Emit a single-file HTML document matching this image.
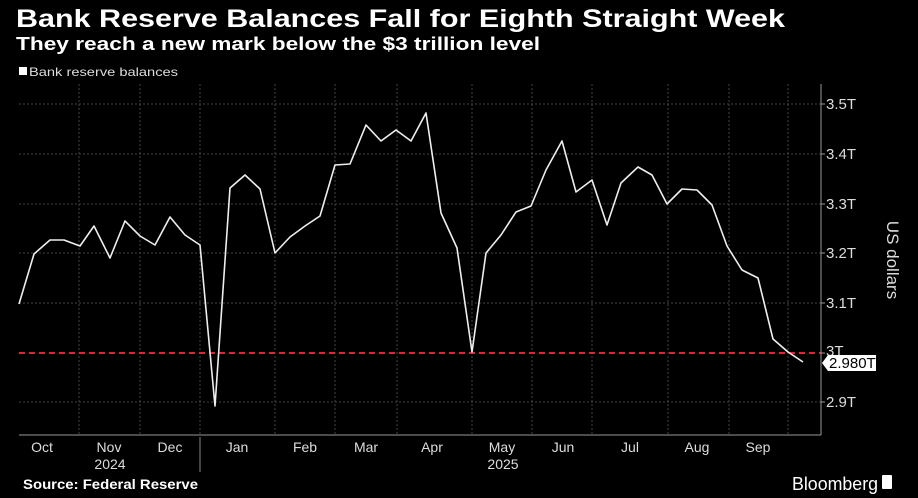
<!DOCTYPE html>
<html><head><meta charset="utf-8"><style>
html,body{margin:0;padding:0;background:#000;width:918px;height:498px;overflow:hidden}
svg{display:block}
text{font-family:"Liberation Sans",sans-serif}
</style></head><body>
<svg width="918" height="498" viewBox="0 0 918 498" xmlns="http://www.w3.org/2000/svg">
<rect width="918" height="498" fill="#000"/>
<text x="16" y="27" fill="#fff" font-size="25" font-weight="bold" textLength="769" lengthAdjust="spacingAndGlyphs">Bank Reserve Balances Fall for Eighth Straight Week</text>
<text x="16" y="50" fill="#fff" font-size="18" font-weight="bold" textLength="524" lengthAdjust="spacingAndGlyphs">They reach a new mark below the $3 trillion level</text>
<rect x="19" y="67" width="8" height="8" fill="#fff"/>
<text x="29" y="76" fill="#ddd" font-size="12" textLength="149" lengthAdjust="spacingAndGlyphs">Bank reserve balances</text>
<g stroke="#444" stroke-width="1" stroke-dasharray="2,2">
<line x1="19" y1="104" x2="821" y2="104"/><line x1="19" y1="154" x2="821" y2="154"/>
<line x1="19" y1="204" x2="821" y2="204"/><line x1="19" y1="253" x2="821" y2="253"/>
<line x1="19" y1="303" x2="821" y2="303"/><line x1="19" y1="402" x2="821" y2="402"/>
<line x1="79" y1="84" x2="79" y2="435"/><line x1="140" y1="84" x2="140" y2="435"/>
<line x1="200" y1="84" x2="200" y2="435"/><line x1="275" y1="84" x2="275" y2="435"/>
<line x1="335" y1="84" x2="335" y2="435"/><line x1="397" y1="84" x2="397" y2="435"/>
<line x1="472" y1="84" x2="472" y2="435"/><line x1="532" y1="84" x2="532" y2="435"/>
<line x1="592" y1="84" x2="592" y2="435"/><line x1="668" y1="84" x2="668" y2="435"/>
<line x1="729" y1="84" x2="729" y2="435"/><line x1="788" y1="84" x2="788" y2="435"/>
</g>
<line x1="19" y1="353" x2="821" y2="353" stroke="#e8203a" stroke-width="2" stroke-dasharray="6,4"/>
<polyline fill="none" stroke="#eee" stroke-width="1.6" stroke-linejoin="round" points="19,304 34,254 50,240 64,240 80,246 94,226 110,258 125,221 140,236 155,245 170,217 185,235 200,245 215,406 230,188 245,175 260,189 275,253 290,237 305,226 320,216 335,165 350,164 366,125 381,141 396,130 411,141 426,113 441,213 457,248 472,352 486,253 501,235 516,212 531,206 546,170 562,141 576,192 592,180 607,225 621,183 638,167 652,175 667,204 682,189 697,190 712,205 727,246 742,270 758,278 773,339 788,352 803,362"/>
<line x1="821" y1="84" x2="821" y2="435" stroke="#999" stroke-width="1"/>
<line x1="19" y1="435" x2="821" y2="435" stroke="#999" stroke-width="1"/>
<g stroke="#999"><line x1="821" y1="104" x2="825" y2="104"/><line x1="821" y1="154" x2="825" y2="154"/><line x1="821" y1="204" x2="825" y2="204"/><line x1="821" y1="253" x2="825" y2="253"/><line x1="821" y1="303" x2="825" y2="303"/><line x1="821" y1="353" x2="825" y2="353"/><line x1="821" y1="402" x2="825" y2="402"/></g>
<g fill="#ddd" font-size="15">
<text x="826" y="109">3.5T</text><text x="826" y="159">3.4T</text><text x="826" y="209">3.3T</text>
<text x="826" y="258">3.2T</text><text x="826" y="308">3.1T</text><text x="826" y="356">3T</text><text x="826" y="407">2.9T</text>
</g>
<polygon points="822,363 828,355 876,355 876,371 828,371" fill="#fff"/>
<text x="829" y="368" fill="#000" font-size="15">2.980T</text>
<text transform="translate(887,260) rotate(90)" fill="#ddd" font-size="17" text-anchor="middle">US dollars</text>
<g fill="#ddd" font-size="14" text-anchor="middle">
<text x="42" y="452">Oct</text><text x="109" y="452">Nov</text><text x="170" y="452">Dec</text>
<text x="237" y="452">Jan</text><text x="305" y="452">Feb</text><text x="366" y="452">Mar</text>
<text x="432" y="452">Apr</text><text x="502" y="452">May</text><text x="563" y="452">Jun</text>
<text x="630" y="452">Jul</text><text x="697" y="452">Aug</text><text x="758" y="452">Sep</text>
<text x="110" y="469">2024</text><text x="503" y="469">2025</text>
</g>
<line x1="200" y1="437" x2="200" y2="472" stroke="#888"/>
<text x="23" y="489" fill="#fff" font-size="14" font-weight="bold" textLength="175" lengthAdjust="spacingAndGlyphs">Source: Federal Reserve</text>
<text x="792" y="490" fill="#fff" font-size="18" textLength="86" lengthAdjust="spacingAndGlyphs">Bloomberg</text>
<rect x="882" y="475" width="10" height="14" fill="#fff" rx="1"/>
</svg>
</body></html>
